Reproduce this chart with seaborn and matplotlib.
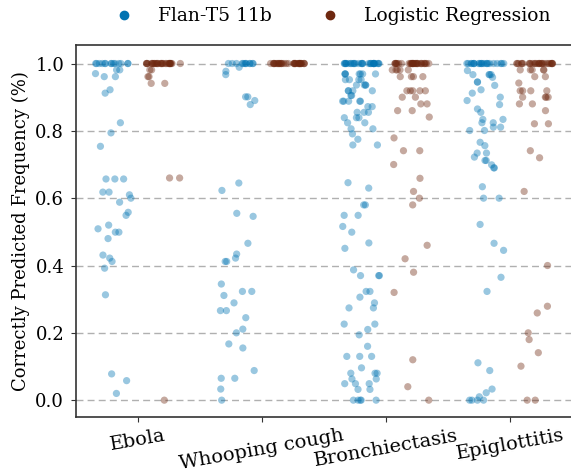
import numpy as np
import pandas as pd
import matplotlib
matplotlib.use("Agg")
import matplotlib.pyplot as plt
from matplotlib.lines import Line2D
import seaborn as sns

diseases = ["Ebola", "Whooping cough", "Bronchiectasis", "Epiglottitis"]
models = ["Flan-T5 11b", "Logistic Regression"]
colors = ["#0173b2", "#6e2810"]

# values (fraction of correct predictions per case)
ebola_flan = [1.0] * 14 + [0.981, 0.981, 0.970, 0.961, 0.961, 0.922, 0.912, 0.824, 0.794,
              0.754, 0.657, 0.657, 0.657, 0.618, 0.618, 0.610, 0.600, 0.588, 0.558, 0.549,
              0.520, 0.509, 0.499, 0.499, 0.480, 0.431, 0.422, 0.412, 0.392, 0.313, 0.078,
              0.058, 0.020]
ebola_lr = [1.0] * 30 + [0.981, 0.981, 0.961, 0.961, 0.941, 0.941, 0.660, 0.660, 0.0]

whoop_flan = [1.0] * 12 + [0.989, 0.977, 0.967, 0.901, 0.901, 0.890, 0.878, 0.645, 0.623,
              0.555, 0.546, 0.466, 0.434, 0.422, 0.412, 0.412, 0.345, 0.323, 0.323, 0.311,
              0.289, 0.266, 0.266, 0.245, 0.211, 0.200, 0.167, 0.155, 0.088, 0.065, 0.065,
              0.033, 0.0]
whoop_lr = [1.0] * 35

bronch_flan = [1.0] * 30 + [0.969] * 7 + [0.952] * 4 + [0.936] * 4 + [0.919] * 4 + \
    [0.905, 0.905] + [0.888] * 5 + [0.872, 0.872] + [0.855] * 3 + [0.839] * 3 + \
    [0.824, 0.824, 0.806, 0.806, 0.791, 0.775, 0.758, 0.758, 0.646, 0.630, 0.580, 0.580,
     0.549, 0.549, 0.516, 0.499, 0.467, 0.451, 0.387, 0.370, 0.370, 0.370, 0.323, 0.323,
     0.306, 0.289, 0.274, 0.274, 0.226, 0.226, 0.210, 0.194, 0.160, 0.130, 0.130, 0.130,
     0.096, 0.080, 0.080, 0.080, 0.063, 0.063, 0.049, 0.049, 0.049, 0.032, 0.032] + [0.0] * 5
bronch_lr = [1.0] * 30 + [0.981] * 5 + [0.961] * 4 + [0.919] * 5 + \
    [0.900, 0.900, 0.880, 0.880, 0.860, 0.860, 0.841, 0.779, 0.741, 0.741, 0.700, 0.659,
     0.620, 0.600, 0.580, 0.460, 0.420, 0.380, 0.320, 0.120, 0.040, 0.0]

epig_flan = [1.0] * 22 + [0.979, 0.967, 0.967, 0.967, 0.967, 0.959, 0.945, 0.945, 0.935,
             0.922, 0.912, 0.900, 0.890, 0.878, 0.865, 0.855, 0.834, 0.834, 0.824, 0.824,
             0.811, 0.811, 0.801, 0.801, 0.766, 0.756, 0.734, 0.734, 0.722, 0.712, 0.712,
             0.699, 0.690, 0.690, 0.634, 0.600, 0.600, 0.522, 0.466, 0.445, 0.365, 0.323,
             0.111, 0.088, 0.033, 0.022, 0.010] + [0.0] * 4
epig_lr = [1.0] * 28 + [0.981] * 5 + [0.961, 0.961, 0.942] + [0.919] * 4 + [0.900] * 4 + \
    [0.880, 0.880, 0.860, 0.821, 0.821, 0.741, 0.720, 0.620, 0.400, 0.279, 0.259, 0.200,
     0.180, 0.141, 0.101, 0.0, 0.0]

groups = {
    ("Ebola", "Flan-T5 11b"): ebola_flan,
    ("Ebola", "Logistic Regression"): ebola_lr,
    ("Whooping cough", "Flan-T5 11b"): whoop_flan,
    ("Whooping cough", "Logistic Regression"): whoop_lr,
    ("Bronchiectasis", "Flan-T5 11b"): bronch_flan,
    ("Bronchiectasis", "Logistic Regression"): bronch_lr,
    ("Epiglottitis", "Flan-T5 11b"): epig_flan,
    ("Epiglottitis", "Logistic Regression"): epig_lr,
}
rows = []
for (d, m), vals in groups.items():
    for v in vals:
        rows.append({"disease": d, "model": m, "freq": v})
df = pd.DataFrame(rows)

plt.rcParams["font.family"] = "DejaVu Serif"
np.random.seed(3)

fig = plt.figure(figsize=(5.71, 4.72), dpi=100)
ax = fig.add_axes([76 / 571, 55 / 472, 496 / 571, 372 / 472])
ax.set_axisbelow(True)
ax.grid(True, linestyle=(0, (5, 3)), color="#b0b0b0", linewidth=1)

sns.stripplot(data=df, x="disease", y="freq", hue="model", order=diseases,
              hue_order=models, palette=colors, dodge=True, jitter=0.3,
              alpha=0.4, size=5.2, linewidth=0, ax=ax, legend=False)

ax.set_xlim(-0.5, 3.5)
ax.set_ylim(-0.05, 1.055)
ax.set_yticks([0.0, 0.2, 0.4, 0.6, 0.8, 1.0])
ax.set_xlabel("")
ax.set_ylabel("Correctly Predicted Frequency (%)", fontsize=13)
ax.tick_params(axis="y", labelsize=13, color="#333333", pad=5)
ax.tick_params(axis="x", labelsize=14, color="#333333")
plt.setp(ax.get_xticklabels(), rotation=10)
for s in ax.spines.values():
    s.set_color("#333333")
    s.set_linewidth(1.2)

handles = [Line2D([], [], marker="o", linestyle="", color=c, markersize=6) for c in colors]
fig.legend(handles, models, loc="upper center", bbox_to_anchor=(0.574, 1.02), ncol=2,
           frameon=False, fontsize=13.5, handletextpad=0.8, columnspacing=2.1)

fig.savefig("out.png", dpi=100)
